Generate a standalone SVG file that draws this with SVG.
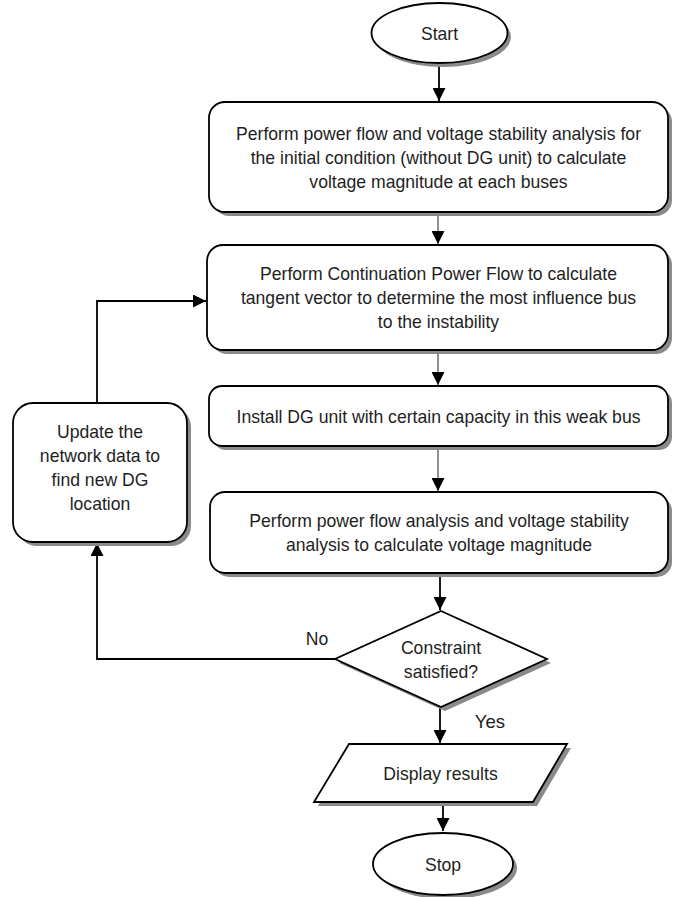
<svg xmlns="http://www.w3.org/2000/svg" width="689" height="897" viewBox="0 0 689 897">
<defs>
<style>
.sh{fill:#8a8a8a;stroke:none}
.nd{fill:#fff;stroke:#000;stroke-width:1.8}
.t{font-family:"Liberation Sans",Arial,sans-serif;font-size:19px;fill:#1e1e1e;text-anchor:middle}
.c{fill:none;stroke:#000;stroke-width:1.8}
.ct{fill:none;stroke:#222;stroke-width:1}
</style>
<marker id="ah" viewBox="0 0 10 10" refX="10" refY="5" markerWidth="13" markerHeight="13" markerUnits="userSpaceOnUse" orient="auto">
<path d="M0,0 L10,5 L0,10 Z" fill="#000"/>
</marker>
</defs>
<rect width="689" height="897" fill="#fff"/>

<g id="connectors">
<line class="c" x1="439" y1="63" x2="439" y2="101" marker-end="url(#ah)"/>
<line class="ct" x1="438" y1="213" x2="438" y2="244" marker-end="url(#ah)"/>
<line class="ct" x1="438" y1="351" x2="438" y2="385" marker-end="url(#ah)"/>
<line class="ct" x1="438" y1="447" x2="438" y2="491" marker-end="url(#ah)"/>
<line class="c" x1="440" y1="574" x2="440" y2="610" marker-end="url(#ah)"/>
<line class="c" x1="440" y1="707" x2="440" y2="743" marker-end="url(#ah)"/>
<line class="c" x1="443" y1="803" x2="443" y2="831" marker-end="url(#ah)"/>
<polyline class="c" points="335,659 97,659 97,543" marker-end="url(#ah)"/>
<polyline class="c" points="97,403 97,301 206,301" marker-end="url(#ah)"/>
<text class="t" x="317" y="645" textLength="22.5" lengthAdjust="spacingAndGlyphs">No</text>
<text class="t" x="490" y="728" textLength="30.3" lengthAdjust="spacingAndGlyphs">Yes</text>
</g>

<g id="start">
<ellipse class="sh" cx="443" cy="37" rx="68" ry="30"/>
<ellipse class="nd" cx="439.5" cy="33" rx="68" ry="30"/>
<text class="t" x="439.5" y="40" textLength="37" lengthAdjust="spacingAndGlyphs">Start</text>
</g>

<g id="box1">
<rect class="sh" x="213" y="106" width="459" height="110" rx="16"/>
<rect class="nd" x="209" y="102" width="459" height="110" rx="16"/>
<text class="t" x="438.5" y="140" textLength="405" lengthAdjust="spacingAndGlyphs">Perform power flow and voltage stability analysis for</text>
<text class="t" x="438.5" y="164" textLength="375.6" lengthAdjust="spacingAndGlyphs">the initial condition (without DG unit) to calculate</text>
<text class="t" x="438.5" y="188" textLength="258.3" lengthAdjust="spacingAndGlyphs">voltage magnitude at each buses</text>
</g>

<g id="box2">
<rect class="sh" x="211" y="249" width="461" height="105" rx="16"/>
<rect class="nd" x="207" y="245" width="461" height="105" rx="16"/>
<text class="t" x="438.5" y="280" textLength="357" lengthAdjust="spacingAndGlyphs">Perform Continuation Power Flow to calculate</text>
<text class="t" x="438.5" y="304" textLength="395.2" lengthAdjust="spacingAndGlyphs">tangent vector to determine the most influence bus</text>
<text class="t" x="438.5" y="328" textLength="121.3" lengthAdjust="spacingAndGlyphs">to the instability</text>
</g>

<g id="box3">
<rect class="sh" x="213" y="390" width="459" height="60" rx="13"/>
<rect class="nd" x="209" y="386" width="459" height="60" rx="13"/>
<text class="t" x="438.5" y="423" textLength="404" lengthAdjust="spacingAndGlyphs">Install DG unit with certain capacity in this weak bus</text>
</g>

<g id="box4">
<rect class="sh" x="214" y="496" width="458" height="81" rx="15"/>
<rect class="nd" x="210" y="492" width="458" height="81" rx="15"/>
<text class="t" x="439" y="527" textLength="379.5" lengthAdjust="spacingAndGlyphs">Perform power flow analysis and voltage stability</text>
<text class="t" x="439" y="551" textLength="306.2" lengthAdjust="spacingAndGlyphs">analysis to calculate voltage magnitude</text>
</g>

<g id="update">
<rect class="sh" x="17" y="407" width="174" height="139" rx="20"/>
<rect class="nd" x="13" y="403" width="174" height="139" rx="20"/>
<text class="t" x="100" y="438" textLength="86.1" lengthAdjust="spacingAndGlyphs">Update the</text>
<text class="t" x="100" y="462" textLength="120.3" lengthAdjust="spacingAndGlyphs">network data to</text>
<text class="t" x="100" y="486" textLength="96.8" lengthAdjust="spacingAndGlyphs">find new DG</text>
<text class="t" x="100" y="510" textLength="60.6" lengthAdjust="spacingAndGlyphs">location</text>
</g>

<g id="decision">
<polygon class="sh" points="445,615 551,663 445,711 339,663"/>
<polygon class="nd" points="441,611 547,659 441,707 335,659"/>
<text class="t" x="441" y="654" textLength="80.2" lengthAdjust="spacingAndGlyphs">Constraint</text>
<text class="t" x="441" y="678" textLength="74.3" lengthAdjust="spacingAndGlyphs">satisfied?</text>
</g>

<g id="display">
<polygon class="sh" points="353,748 571,748 537,806 318,806"/>
<polygon class="nd" points="349,744 567,744 533,802 314,802"/>
<text class="t" x="440.5" y="780" textLength="114.4" lengthAdjust="spacingAndGlyphs">Display results</text>
</g>

<g id="stop">
<ellipse class="sh" cx="447" cy="868" rx="70" ry="31"/>
<ellipse class="nd" cx="443" cy="864" rx="70" ry="31"/>
<text class="t" x="443" y="871" textLength="36.2" lengthAdjust="spacingAndGlyphs">Stop</text>
</g>
</svg>
